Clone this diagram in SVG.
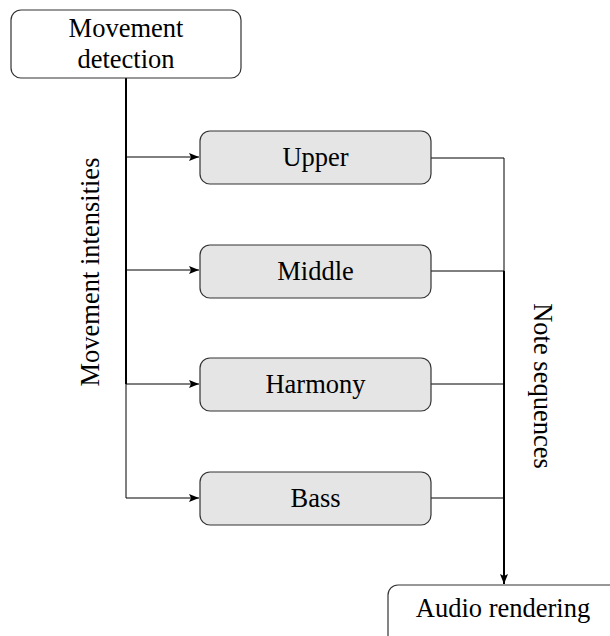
<svg xmlns="http://www.w3.org/2000/svg" width="610" height="636" viewBox="0 0 610 636">
<style>
.t{font-family:"Liberation Serif","Times New Roman",serif;font-size:26.5px;fill:#000;text-anchor:middle}
.box{fill:#fff;stroke:#333;stroke-width:1.2}
.gbox{fill:#e5e5e5;stroke:#333;stroke-width:1.2}
.c{fill:none;stroke:#000;stroke-width:1}
.ct{fill:none;stroke:#000;stroke-width:2}
</style>
<defs>
<marker id="a" viewBox="0 0 10 8" refX="10" refY="4" markerWidth="10" markerHeight="8" markerUnits="userSpaceOnUse" orient="auto">
<path d="M0,0 L10,4 L0,8 L2,4 Z" fill="#000"/>
</marker>
</defs>
<rect width="610" height="636" fill="#fff"/>
<g id="connectors">
<path class="ct" d="M126,78 V384"/>
<path class="c" d="M126,384 V498"/>
<path class="c" d="M126,157 H199" marker-end="url(#a)"/>
<path class="c" d="M126,270 H199" marker-end="url(#a)"/>
<path class="c" d="M126,384 H199" marker-end="url(#a)"/>
<path class="c" d="M126,498 H199" marker-end="url(#a)"/>
<path class="c" d="M431,158 H504 V271"/>
<path class="c" d="M431,271 H504"/>
<path class="c" d="M431,384 H504"/>
<path class="c" d="M431,498 H504"/>
<path class="ct" d="M504,271 V584" marker-end="url(#a)"/>
<text class="t" transform="translate(99,272) rotate(-90)">Movement intensities</text>
<text class="t" transform="translate(534,386) rotate(90)">Note sequences</text>
</g>
<g id="movement-detection">
<rect class="box" x="11" y="10" width="230" height="68" rx="10"/>
<text class="t" x="126" y="37">Movement</text>
<text class="t" x="126" y="68">detection</text>
</g>
<g id="upper">
<rect class="gbox" x="200" y="131" width="231" height="53" rx="10"/>
<text class="t" x="315.5" y="166">Upper</text>
</g>
<g id="middle">
<rect class="gbox" x="200" y="245" width="231" height="53" rx="10"/>
<text class="t" x="315.5" y="280">Middle</text>
</g>
<g id="harmony">
<rect class="gbox" x="200" y="358" width="231" height="53" rx="10"/>
<text class="t" x="315.5" y="393">Harmony</text>
</g>
<g id="bass">
<rect class="gbox" x="200" y="472" width="231" height="53" rx="10"/>
<text class="t" x="315.5" y="507">Bass</text>
</g>
<g id="audio-rendering">
<rect class="box" x="388" y="585" width="232" height="60" rx="10"/>
<text class="t" x="503" y="617">Audio rendering</text>
</g>
</svg>
